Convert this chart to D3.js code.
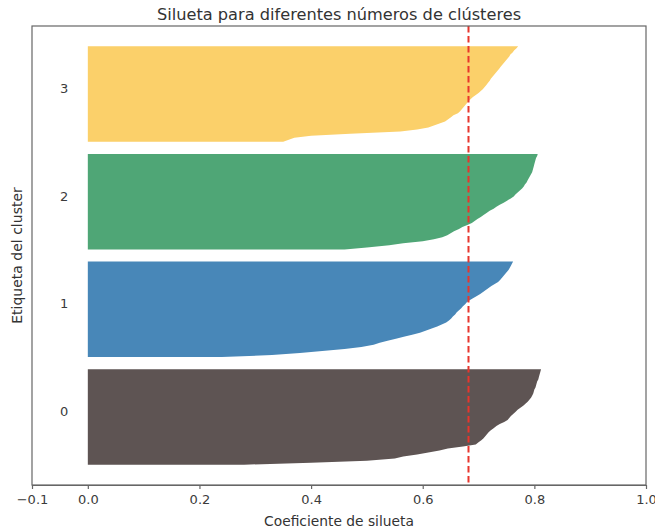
<!DOCTYPE html>
<html>
<head>
<meta charset="utf-8">
<script src="https://cdn.jsdelivr.net/npm/d3@7"></script>
<style>
  html, body { margin: 0; padding: 0; background: #fff; }
  svg { display: block; font-family: "DejaVu Sans", sans-serif; }
</style>
</head>
<body>
<svg id="chart" width="655" height="531"></svg>
<script>
// ---- data (sorted silhouette values per cluster, bottom → top) ----
const clusterLabels = ["0", "1", "2", "3"];
const clusterColors = ["#5e5453", "#4887b8", "#4fa676", "#fbd06a"];

const silhouette0 = [0.28, 0.40, 0.50, 0.55, 0.565, 0.59, 0.61, 0.63, 0.645, 0.672, 0.695, 0.70,
  0.705, 0.709, 0.712, 0.715, 0.718, 0.722, 0.727, 0.732, 0.738, 0.746, 0.752, 0.755,
  0.758, 0.762, 0.766, 0.77, 0.775, 0.78, 0.784, 0.788, 0.791, 0.794, 0.796, 0.798,
  0.799, 0.80, 0.802, 0.803, 0.804, 0.805, 0.807, 0.808, 0.809, 0.81, 0.811, 0.812];

const silhouette1 = [0.24, 0.33, 0.38, 0.42, 0.46, 0.49, 0.512, 0.523, 0.537, 0.552, 0.566, 0.581,
  0.595, 0.605, 0.616, 0.626, 0.634, 0.642, 0.647, 0.651, 0.654, 0.658, 0.661, 0.665,
  0.669, 0.672, 0.676, 0.679, 0.684, 0.69, 0.697, 0.703, 0.708, 0.713, 0.718, 0.723,
  0.729, 0.735, 0.739, 0.742, 0.745, 0.748, 0.751, 0.754, 0.756, 0.758, 0.76, 0.762];

const silhouette2 = [0.46, 0.50, 0.54, 0.565, 0.60, 0.62, 0.635, 0.644, 0.65, 0.656, 0.665, 0.671,
  0.68, 0.688, 0.693, 0.698, 0.704, 0.709, 0.715, 0.72, 0.727, 0.732, 0.738, 0.745,
  0.751, 0.757, 0.763, 0.766, 0.77, 0.774, 0.778, 0.781, 0.783, 0.786, 0.788, 0.79,
  0.792, 0.794, 0.796, 0.797, 0.798, 0.799, 0.80, 0.801, 0.802, 0.803, 0.805, 0.806];

const silhouette3 = [0.35, 0.36, 0.37, 0.40, 0.47, 0.56, 0.59, 0.61, 0.62, 0.63, 0.64, 0.645,
  0.65, 0.655, 0.663, 0.667, 0.67, 0.673, 0.676, 0.679, 0.682, 0.686, 0.69, 0.695,
  0.70, 0.704, 0.708, 0.711, 0.714, 0.717, 0.72, 0.722, 0.725, 0.728, 0.731, 0.734,
  0.737, 0.74, 0.743, 0.746, 0.749, 0.752, 0.755, 0.757, 0.761, 0.764, 0.768, 0.771];

const clusterValues = [silhouette0, silhouette1, silhouette2, silhouette3];
const silhouetteAvg = 0.682;
const xTicks = [-0.1, 0.0, 0.2, 0.4, 0.6, 0.8, 1.0];

const titleText = "Silueta para diferentes números de clústeres";
const xLabelText = "Coeficiente de silueta";
const yLabelText = "Etiqueta del cluster";

(function () {
// ---- layout ----
const svg = d3.select("#chart");
const mLeft = 32, mRight = 646, mTop = 26, mBottom = 485;
const gapUnits = 5, startUnits = 10, yMax = 226;

const x = d3.scaleLinear().domain([-0.1, 1.0]).range([mLeft, mRight]);
const y = d3.scaleLinear().domain([0, yMax]).range([mBottom, mTop]);

// cluster areas
let yLower = startUnits;
const area = d3.area()
  .x0(() => x(0))
  .x1(d => x(d.v))
  .y(d => y(d.y))
  .curve(d3.curveLinear);

clusterValues.forEach((vals, c) => {
  const pts = vals.map((v, i) => ({ v: v, y: yLower + i }));
  svg.append("path")
    .datum(pts)
    .attr("d", area)
    .attr("fill", clusterColors[c])
    .attr("stroke", "none");
  svg.append("text")
    .attr("x", x(-0.05))
    .attr("y", y(yLower + 0.5 * vals.length))
    .attr("text-anchor", "start")
    .attr("font-size", 13)
    .attr("fill", "#3b3b3b")
    .text(clusterLabels[c]);
  yLower += vals.length + gapUnits;
});

// average line
svg.append("line")
  .attr("x1", x(silhouetteAvg)).attr("x2", x(silhouetteAvg))
  .attr("y1", mTop).attr("y2", mBottom)
  .attr("stroke", "#e8352c")
  .attr("stroke-width", 2)
  .attr("stroke-dasharray", "6.5,3.5");

// frame
svg.append("rect")
  .attr("x", mLeft).attr("y", mTop)
  .attr("width", mRight - mLeft).attr("height", mBottom - mTop)
  .attr("fill", "none")
  .attr("stroke", "#666")
  .attr("stroke-width", 1.2);

// x axis
const xAxis = d3.axisBottom(x)
  .tickValues(xTicks)
  .tickSize(4)
  .tickPadding(6)
  .tickSizeOuter(0)
  .tickFormat(d3.format(".1f"));

const gx = svg.append("g")
  .attr("transform", `translate(0,${mBottom})`)
  .call(xAxis);
gx.select(".domain").attr("stroke", "#666").attr("stroke-width", 1.2);
gx.selectAll(".tick line").attr("stroke", "#666").attr("stroke-width", 1.2);
gx.selectAll(".tick text")
  .attr("font-size", 13)
  .attr("font-family", "DejaVu Sans, sans-serif")
  .attr("fill", "#3b3b3b");

// title & labels
svg.append("text")
  .attr("x", (mLeft + mRight) / 2)
  .attr("y", 20)
  .attr("text-anchor", "middle")
  .attr("font-size", 16.2)
  .attr("fill", "#333")
  .text(titleText);

svg.append("text")
  .attr("x", (mLeft + mRight) / 2)
  .attr("y", 526)
  .attr("text-anchor", "middle")
  .attr("font-size", 13.8)
  .attr("fill", "#333")
  .text(xLabelText);

svg.append("text")
  .attr("transform", `translate(22,${(mTop + mBottom) / 2}) rotate(-90)`)
  .attr("text-anchor", "middle")
  .attr("font-size", 14)
  .attr("fill", "#333")
  .text(yLabelText);
})();
</script>
</body>
</html>
